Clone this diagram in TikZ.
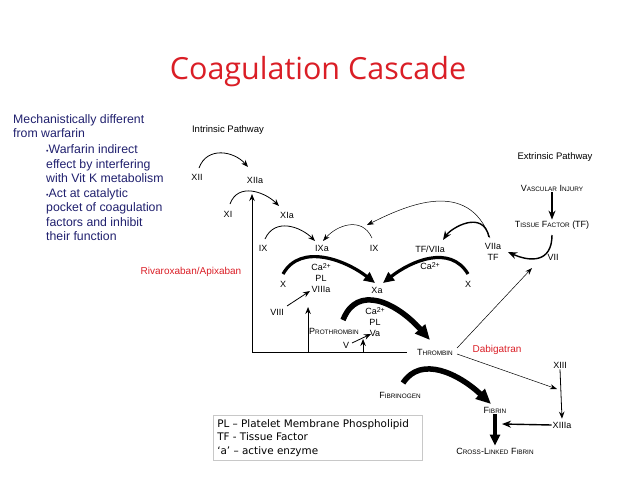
\documentclass[tikz,border=0pt]{standalone}
\usepackage{fontspec}
\setmainfont{Liberation Sans}
\newfontfamily\legendefont{DejaVu Sans}
\newfontfamily\titrefont{Open Sans}
\usetikzlibrary{arrows.meta,calc}

\definecolor{rouge}{RGB}{218,30,38}
\definecolor{bleunuit}{RGB}{32,32,110}
\definecolor{gris}{RGB}{200,200,200}

% fausses petites capitales
\newcommand{\pcap}[2]{#1{\fontsize{6.4}{7}\selectfont #2}}
\newcommand{\puce}{{\fontsize{7}{7}\selectfont\textbullet}}
\newcommand{\ion}{Ca\raisebox{2.6pt}{\fontsize{7}{7}\selectfont 2+}}

\tikzset{etiq/.style = {font=\fontsize{9}{11}\selectfont, inner sep=1pt, align=center},
         voie/.style = {font=\fontsize{9.5}{11}\selectfont, inner sep=1pt},
         medic/.style = {font=\fontsize{10}{12}\selectfont, text=rouge, inner sep=1pt},
         bloc/.style = {font=\fontsize{12.3}{14.5}\selectfont, text=bleunuit, align=left, inner sep=0pt},
         fin/.style = {-{Stealth[length=7pt,width=5.5pt]}, line width=0.8pt},
         fil/.style = {-{Stealth[length=7pt,width=5pt]}, line width=0.5pt},
         moyen/.style = {-{Stealth[length=9pt,width=7pt]}, line width=1.4pt},
         gras/.style = {-{Triangle[length=11pt,width=10pt]}, line width=3.2pt},
         tresgras/.style = {-{Triangle[length=15pt,width=13pt]}, line width=5.5pt}
        }

\begin{document}
\begin{tikzpicture}[x=1pt,y=-1pt]
  \useasboundingbox (0,0) rectangle (638,479);

  % titre et texte de gauche
  \node[font=\titrefont\fontsize{30.5}{33}\selectfont, text=rouge] (titre) at (318,72) {Coagulation Cascade};
  \node[bloc, anchor=north west] (meca) at (13,114) {Mechanistically different\\from warfarin};
  \node[bloc, anchor=north west] (puces) at (46,144.5) {\puce Warfarin indirect\\effect by interfering\\with Vit K metabolism\\\puce Act at catalytic\\pocket of coagulation\\factors and inhibit\\their function};

  % facteurs
  \node[voie] (intrins) at (228,130) {Intrinsic Pathway};
  \node[voie] (extrins) at (555,157) {Extrinsic Pathway};
  \node[etiq] (XII) at (197,177) {XII};
  \node[etiq] (XIIa) at (255,180) {XIIa};
  \node[etiq] (XI) at (228,214) {XI};
  \node[etiq] (XIa) at (287,215) {XIa};
  \node[etiq] (IXun) at (263,248) {IX};
  \node[etiq] (IXa) at (322,248) {IXa};
  \node[etiq] (IXdeux) at (374,248) {IX};
  \node[etiq] (TFVIIa) at (430,249) {TF/VIIa};
  \node[etiq] (Ca) at (430,266) {\ion};
  \node[etiq] (VIIaTF) at (493,252) {VIIa\\TF};
  \node[etiq] (VII) at (553,257) {VII};
  \node[etiq] (tissu) at (552,225) {\pcap{T}{ISSUE} \pcap{F}{ACTOR} (TF)};
  \node[etiq] (lesion) at (552,188) {\pcap{V}{ASCULAR} \pcap{I}{NJURY}};
  \node[etiq] (Xun) at (283,284) {X};
  \node[etiq] (VIIIa) at (321,278) {\ion\\PL\\VIIIa};
  \node[etiq] (Xa) at (377,290) {Xa};
  \node[etiq] (Xdeux) at (468,284) {X};
  \node[etiq] (VIII) at (277,312) {VIII};
  \node[etiq] (Va) at (375,322) {\ion\\PL\\Va};
  \node[etiq] (prothr) at (334,331) {\pcap{P}{ROTHROMBIN}};
  \node[etiq] (V) at (346,345) {V};
  \node[etiq] (thromb) at (435,352) {\pcap{T}{HROMBIN}};
  \node[medic] (dabig) at (497,350) {Dabigatran};
  \node[medic] (rivaro) at (191,272) {Rivaroxaban/Apixaban};
  \node[etiq] (XIII) at (560,365) {XIII};
  \node[etiq] (XIIIa) at (562,425) {XIIIa};
  \node[etiq] (fibrin) at (495,410) {\pcap{F}{IBRIN}};
  \node[etiq] (fibrinog) at (400,395) {\pcap{F}{IBRINOGEN}};
  \node[etiq] (reticule) at (495,451) {\pcap{C}{ROSS}-\pcap{L}{INKED} \pcap{F}{IBRIN}};
  \node[draw=gris, line width=0.6pt, anchor=north west, align=left, inner sep=4pt,
        font=\legendefont\fontsize{10.4}{13.5}\selectfont] (legende) at (213,415)
       {PL – Platelet Membrane Phospholipid\kern9pt\\TF - Tissue Factor\\‘a’ – active enzyme};

  % voie intrinseque
  \draw[fin] ($(XII)+(2,-9)$) .. controls +(8,-22) and +(-14,-16) .. ($(XIIa)+(-7,-13)$);
  \draw[fin] ($(XI)+(2,-10)$) .. controls +(8,-22) and +(-14,-14) .. ($(XIa)+(-8,-9)$);
  \draw[fin] ($(IXun)+(2,-9)$) .. controls +(10,-22) and +(-14,-14) .. ($(IXa)+(-7,-7)$);
  \draw[fil] ($(IXdeux)+(-2,-10)$) .. controls +(-10,-22) and +(14,-16) .. ($(IXa)+(1,-7)$);

  % voie extrinseque
  \draw[fil] ($(VIIaTF)+(-3,-14)$) .. controls +(-22,-60) and +(40,-20) .. ($(IXdeux)+(-7,-23)$);
  \draw[moyen] ($(VIIaTF)+(-4,-15)$) .. controls +(-6,-28) and +(8,-12) .. ($(TFVIIa)+(13,-9)$);
  \draw[moyen] (lesion.south) -- (tissu.north);
  \draw[moyen] ($(tissu)+(0,10)$) .. controls +(0,28) and +(22,10) .. ($(VIIaTF)+(15,0)$);

  % voie commune
  \draw[gras] ($(Xun)+(0,-10)$) .. controls +(18,-32) and +(-28,-22) .. ($(Xa)+(-2,-7)$);
  \draw[gras] ($(Xdeux)+(0,-10)$) .. controls +(-18,-30) and +(28,-22) .. ($(Xa)+(6,-7)$);
  \draw[fin] ($(VIII)+(10,-6)$) -- ($(VIIIa)+(-11,13)$);
  \draw[fin] ($(V)+(6,-2)$) -- ($(Va)+(-4,12)$);
  \draw[tresgras] ($(prothr)+(9,-11)$) .. controls +(14,-36) and +(-34,-38) .. ($(thromb)+(-5,-12)$);
  \draw[tresgras] ($(fibrinog)+(3,-12)$) .. controls +(18,-28) and +(-32,-30) .. ($(fibrin)+(-4,-6)$);

  \coordinate (coin) at (252,352);
  \draw[line width=0.9pt] ([xshift=-9pt]thromb.west) -- (coin);
  \draw[fin] (coin) -- ($(XIIa)+(-3,14)$);
  \draw[fin] (coin -| VIIIa.south west) ++(-2,0) -- ++(0,-45);
  \draw[fin] (coin -| Va.south west) ++(-1,0) -- ++(0,-13);

  % thrombine
  \draw[fil] ($(thromb.east)+(3,-4)$) -- ($(VII)+(-21,11)$);
  \draw[fil] ($(thromb.east)+(3,2)$) -- ($(XIII)+(-3,24)$);
  \draw[fin] (XIII.south) -- ([yshift=2pt]XIIIa.north);
  \draw[moyen] (XIIIa.west) -- ($(fibrin)+(7,14)$);
  \draw[gras] (fibrin.south) -- ([yshift=1pt]reticule.north);
\end{tikzpicture}
\end{document}
